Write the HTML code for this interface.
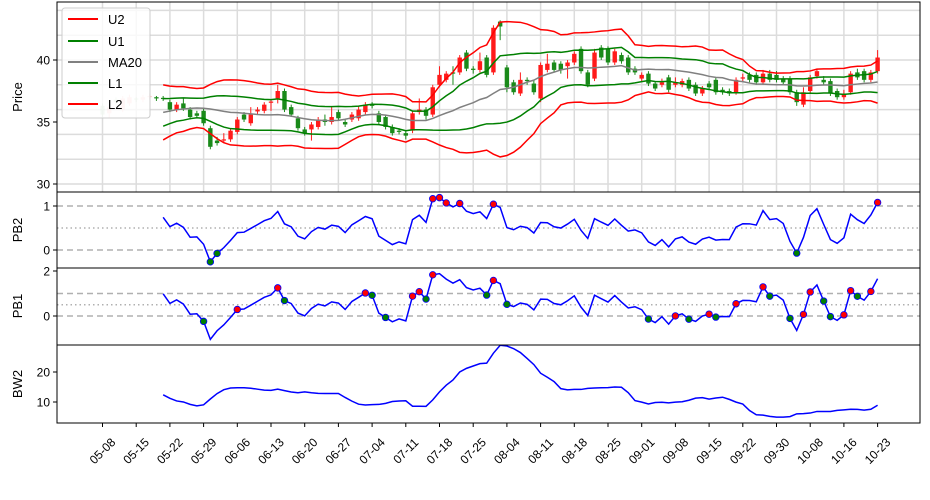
<!DOCTYPE html>
<html><head><meta charset="utf-8"><style>
body{margin:0;background:#fff;}
svg{display:block;font-family:"Liberation Sans",Arial,sans-serif;}
</style></head><body>
<svg id="chart" width="930" height="500" viewBox="0 0 930 500" xmlns="http://www.w3.org/2000/svg">
<defs>
<clipPath id="cp0"><rect x="57" y="2" width="863" height="190"/></clipPath>
<clipPath id="cp1"><rect x="57" y="192" width="863" height="76"/></clipPath>
<clipPath id="cp2"><rect x="57" y="268" width="863" height="77"/></clipPath>
<clipPath id="cp3"><rect x="57" y="345" width="863" height="78"/></clipPath>
</defs>
<g id="grid"></g>
<g id="marks"></g>
<g id="frames"></g>
<g id="axes"></g>
<g id="legend">
<rect x="62" y="8" width="88" height="110" rx="3" fill="#fff" fill-opacity="0.8" stroke="#ccc"/>
<g><line x1="68" y1="19" x2="98" y2="19" stroke="red" stroke-width="2"/><text x="108" y="24" font-size="13">U2</text></g>
<g><line x1="68" y1="41" x2="98" y2="41" stroke="green" stroke-width="2"/><text x="108" y="46" font-size="13">U1</text></g>
<g><line x1="68" y1="62" x2="98" y2="62" stroke="#808080" stroke-width="2"/><text x="108" y="67" font-size="13">MA20</text></g>
<g><line x1="68" y1="83" x2="98" y2="83" stroke="green" stroke-width="2"/><text x="108" y="88" font-size="13">L1</text></g>
<g><line x1="68" y1="104" x2="98" y2="104" stroke="red" stroke-width="2"/><text x="108" y="109" font-size="13">L2</text></g>
</g>
</svg>
<script>
const dateLabels = ["05-08","05-15","05-22","05-29","06-06","06-13","06-20","06-27","07-04","07-11","07-18","07-25","08-04","08-11","08-18","08-25","09-01","09-08","09-15","09-22","09-30","10-08","10-16","10-23"];
const historyClose = [33.8,34.2,35.0,34.4,34.8,35.4,34.2,35.1,35.6,36.0];
const openP = [36.3,35.7,36.8,36.0,36.5,36.9,36.8,37.0,37.0,36.95,36.6,36.0,36.5,36.0,35.7,35.9,34.5,33.5,33.5,33.6,34.2,35.6,34.9,35.85,35.9,36.55,36.9,37.5,36.2,35.3,34.4,34.4,34.6,35.2,35.0,35.8,35.0,35.2,35.3,35.8,36.4,35.7,35.4,34.6,34.3,34.1,34.3,35.8,36.0,35.6,38.0,38.4,39.0,39.0,40.6,39.3,39.2,40.2,39.0,43.1,39.4,38.2,37.3,38.4,38.1,36.9,39.2,39.8,39.7,39.5,39.8,40.9,39.0,38.5,41.0,40.9,39.8,40.4,40.2,39.3,38.5,38.9,38.1,38.0,38.6,38.0,38.0,38.4,38.0,37.3,38.1,38.4,37.6,37.5,37.4,38.5,38.8,38.8,38.2,38.9,38.8,38.5,38.5,37.4,36.4,37.5,38.7,38.4,38.3,37.5,37.0,37.4,39.0,39.1,38.4,39.1];
const closeP = [35.6,36.2,36.6,36.9,37.0,36.8,37.0,37.1,36.9,36.85,36.0,36.4,36.1,35.4,35.5,34.9,33.0,33.3,33.6,34.3,35.2,35.2,35.6,36.0,36.4,36.65,37.5,36.0,35.6,34.5,34.1,34.8,35.2,35.0,35.4,35.3,34.8,35.6,36.0,36.4,36.3,35.0,34.6,34.1,34.2,33.9,35.7,36.0,35.5,37.8,38.8,38.9,38.9,40.2,39.3,39.2,39.9,38.8,42.6,42.7,37.8,37.4,38.4,38.3,37.4,39.6,39.7,39.2,39.2,39.8,40.5,39.1,38.0,40.6,40.2,39.8,40.7,39.9,39.0,39.0,38.8,38.1,37.7,38.2,37.6,38.2,38.3,37.7,37.3,37.7,37.8,37.4,37.4,37.3,38.4,38.6,38.4,38.2,38.9,38.4,38.4,38.2,37.4,36.6,37.4,38.6,39.1,38.2,37.3,37.0,37.3,38.9,38.6,38.4,39.0,40.2];
const highP = [36.5,36.4,37.0,37.1,37.2,37.0,37.2,37.3,37.1,37.1,36.8,36.6,36.9,36.2,35.9,36.1,34.7,33.8,34.1,34.5,35.4,35.8,36.2,36.2,36.6,36.8,38.0,37.7,36.4,35.5,34.6,35.0,35.4,35.6,36.2,36.0,35.2,35.8,36.3,36.6,36.6,35.9,35.6,34.8,34.5,34.3,35.9,36.9,36.2,38.0,39.5,39.1,39.5,40.4,40.8,39.5,40.6,40.4,42.8,43.2,39.6,38.4,39.0,38.6,38.4,39.8,40.5,40.0,39.9,40.0,40.7,41.1,39.2,40.9,41.2,41.1,40.9,40.6,40.4,39.5,39.0,39.1,38.3,38.5,38.8,38.6,38.5,38.6,38.2,37.9,38.3,38.6,37.8,37.7,38.6,38.9,39.0,39.0,39.2,39.2,39.1,38.7,38.7,37.6,37.8,38.8,39.3,38.7,38.5,37.7,37.6,39.1,39.3,39.3,39.2,40.8];
const lowP = [35.4,35.3,36.4,35.8,36.3,36.6,36.6,36.8,36.7,36.7,35.8,35.8,35.9,35.2,35.3,34.7,32.8,33.1,33.3,33.4,34.0,35.0,34.7,35.6,35.7,35.9,36.5,35.8,35.4,34.3,33.9,33.5,34.4,34.7,34.8,35.1,34.6,35.0,35.1,35.6,36.1,34.8,34.4,33.9,34.0,33.6,34.1,35.6,35.2,35.4,37.8,38.2,38.0,38.8,39.1,38.9,39.0,38.6,38.8,41.6,37.4,37.2,37.1,38.0,37.2,36.6,39.0,39.0,38.9,38.5,39.6,38.9,37.8,38.3,40.0,39.6,39.6,39.7,38.8,38.8,38.3,37.9,37.5,37.8,37.4,37.8,37.8,37.5,37.1,37.1,37.6,37.2,37.2,37.1,37.2,38.3,38.2,38.0,38.0,38.2,38.2,38.0,37.2,36.3,36.2,37.3,38.5,38.0,37.1,36.8,36.8,37.2,38.4,38.2,38.2,38.9];
const priceTicks = [30,35,40];
const priceGrid = [30,32,34,36,38,40,42,44];
const pb2Ticks = [0,1];
const pb1Ticks = [0,2];
const bwTicks = [10,20];

const NS = "http://www.w3.org/2000/svg";
const xS = i => 102.5 + i * 6.74;
const yP = v => 184 - (v - 30) * 12.4;
const yB2 = v => 250 - v * 44;
const yB1 = v => 316 - v * 22.5;
const yBW = v => 402 - (v - 10) * 3;
function mk(tag, attrs, parent) {
  const e = document.createElementNS(NS, tag);
  for (const k in attrs) e.setAttribute(k, attrs[k]);
  parent.appendChild(e);
  return e;
}
const grid = document.getElementById('grid');
const marks = document.getElementById('marks');
const frames = document.getElementById('frames');
const axes = document.getElementById('axes');

// grid
dateLabels.forEach((d, k) => {
  const l = mk('line', {x1: xS(k*5), x2: xS(k*5), y1: 2, y2: 192, stroke: '#dcdcdc', 'stroke-width': 1.5}, grid);
  
  
});
priceGrid.forEach(v => {
  const l = mk('line', {x1: 57, x2: 920, y1: yP(v), y2: yP(v), stroke: '#dcdcdc', 'stroke-width': 1.5}, grid);
  
  
});

// bands
const all = historyClose.concat(closeP);
const H = historyClose.length;
const ma = [], sd = [];
for (let i = 0; i < closeP.length; i++) {
  const j = i + H;
  if (j < 19) { ma.push(null); sd.push(null); continue; }
  const w = all.slice(j - 19, j + 1);
  const m = w.reduce((a, b) => a + b, 0) / 20;
  const s = Math.sqrt(w.reduce((a, b) => a + (b - m) * (b - m), 0) / 19);
  ma.push(m); sd.push(s);
}
const first = ma.findIndex(v => v !== null);

// candles
const cg = mk('g', {'clip-path': 'url(#cp0)'}, marks);


closeP.forEach((c, i) => {
  const o = openP[i];
  const col = c >= o ? '#ff1a1a' : '#1a8a1a';
  const g = mk('g', {opacity: i < 8 ? 0.2 : 1}, cg);
  
  
  mk('line', {x1: xS(i), x2: xS(i), y1: yP(highP[i]), y2: yP(lowP[i]), stroke: col, 'stroke-width': 1}, g);
  const top = yP(Math.max(o, c)), bot = yP(Math.min(o, c));
  mk('rect', {x: xS(i) - 2.2, y: top, width: 4.4, height: Math.max(bot - top, 1), fill: col}, g);
});

function pathFrom(vals, yf, start) {
  let d = '';
  for (let i = start; i < vals.length; i++) {
    if (vals[i] === null) continue;
    d += (d ? 'L' : 'M') + xS(i).toFixed(2) + ',' + yf(vals[i]).toFixed(2);
  }
  return d;
}
const U2 = ma.map((m, i) => m === null ? null : m + 2 * sd[i]);
const U1 = ma.map((m, i) => m === null ? null : m + sd[i]);
const L1 = ma.map((m, i) => m === null ? null : m - sd[i]);
const L2 = ma.map((m, i) => m === null ? null : m - 2 * sd[i]);
[['u2-line', U2, 'red'], ['u1-line', U1, 'green'], ['ma20-line', ma, '#808080'], ['l1-line', L1, 'green'], ['l2-line', L2, 'red']].forEach(([n, arr, col]) => {
  const p = mk('path', {d: pathFrom(arr, yP, first), fill: 'none', stroke: col, 'stroke-width': 1.5, 'clip-path': 'url(#cp0)'}, marks);
  
  
});

// indicators
const PB2 = closeP.map((c, i) => ma[i] === null ? null : (c - L2[i]) / (U2[i] - L2[i]));
const PB1 = closeP.map((c, i) => ma[i] === null ? null : (c - L1[i]) / (U1[i] - L1[i]));
const BW2 = ma.map((m, i) => m === null ? null : (U2[i] - L2[i]) / m * 100);

function refLines(yf, cp, name) {
  [[0, '6,4'], [1, '6,4'], [0.5, '1.5,3']].forEach(([v, da]) => {
    const l = mk('line', {x1: 57, x2: 920, y1: yf(v), y2: yf(v), stroke: '#b0b0b0', 'stroke-width': 1.5, 'stroke-dasharray': da}, marks);
    
    
  });
}
refLines(yB2, 'cp1', 'pb2');
refLines(yB1, 'cp2', 'pb1');

const p2 = mk('path', {d: pathFrom(PB2, yB2, first), fill: 'none', stroke: 'blue', 'stroke-width': 1.5, 'clip-path': 'url(#cp1)'}, marks);


const p1 = mk('path', {d: pathFrom(PB1, yB1, first), fill: 'none', stroke: 'blue', 'stroke-width': 1.5, 'clip-path': 'url(#cp2)'}, marks);


const pbw = mk('path', {d: pathFrom(BW2, yBW, first), fill: 'none', stroke: 'blue', 'stroke-width': 1.5, 'clip-path': 'url(#cp3)'}, marks);



function dot(i, v, yf, col, name) {
  const c = mk('circle', {cx: xS(i), cy: yf(v), r: 3.3, fill: col, stroke: 'blue', 'stroke-width': 0.8}, marks);
  
  
}
PB2.forEach((v, i) => {
  if (v === null) return;
  if (v > 1) dot(i, v, yB2, 'red', 'pb2-upper-marker');
  else if (v < 0) dot(i, v, yB2, 'green', 'pb2-lower-marker');
});
PB1.forEach((v, i) => {
  if (v === null || i === 0 || PB1[i-1] === null) return;
  const p = PB1[i-1];
  if ((p < 1 && v >= 1) || (p < 0 && v >= 0)) dot(i, v, yB1, 'red', 'pb1-up-cross-marker');
  else if ((p > 1 && v <= 1) || (p > 0 && v <= 0)) dot(i, v, yB1, 'green', 'pb1-down-cross-marker');
});

// frames
[[2, 190, 'price-panel'], [192, 76, 'pb2-panel'], [268, 77, 'pb1-panel'], [345, 78, 'bw2-panel']].forEach(([y, h, n]) => {
  const r = mk('rect', {x: 57, y: y, width: 863, height: h, fill: 'none', stroke: '#000', 'stroke-width': 1}, frames);
  
  
});

// axes
function yTicks(ticks, yf, name) {
  ticks.forEach(v => {
    mk('line', {x1: 53, x2: 57, y1: yf(v), y2: yf(v), stroke: '#000'}, axes);
    const t = mk('text', {x: 50, y: yf(v) + 4.5, 'font-size': 12, 'text-anchor': 'end'}, axes);
    t.textContent = v;
    
    
  });
}
yTicks(priceTicks, yP, 'price');
yTicks(pb2Ticks, yB2, 'pb2');
yTicks(pb1Ticks, yB1, 'pb1');
yTicks(bwTicks, yBW, 'bw2');
[['Price', 97, 'price-axis-title'], ['PB2', 230, 'pb2-axis-title'], ['PB1', 306, 'pb1-axis-title'], ['BW2', 384, 'bw2-axis-title']].forEach(([s, y, n]) => {
  const t = mk('text', {x: 22, y: y, 'font-size': 13, 'text-anchor': 'middle', transform: 'rotate(-90 22 ' + y + ')'}, axes);
  t.textContent = s;
  
  
});
dateLabels.forEach((d, k) => {
  const x = xS(k * 5);
  mk('line', {x1: x, x2: x, y1: 423, y2: 427, stroke: '#000'}, axes);
  const t = mk('text', {x: x, y: 455, 'font-size': 12, 'text-anchor': 'middle', transform: 'rotate(-45 ' + x + ' 451)'}, axes);
  t.textContent = d;
  
  
});
</script>
</body></html>
